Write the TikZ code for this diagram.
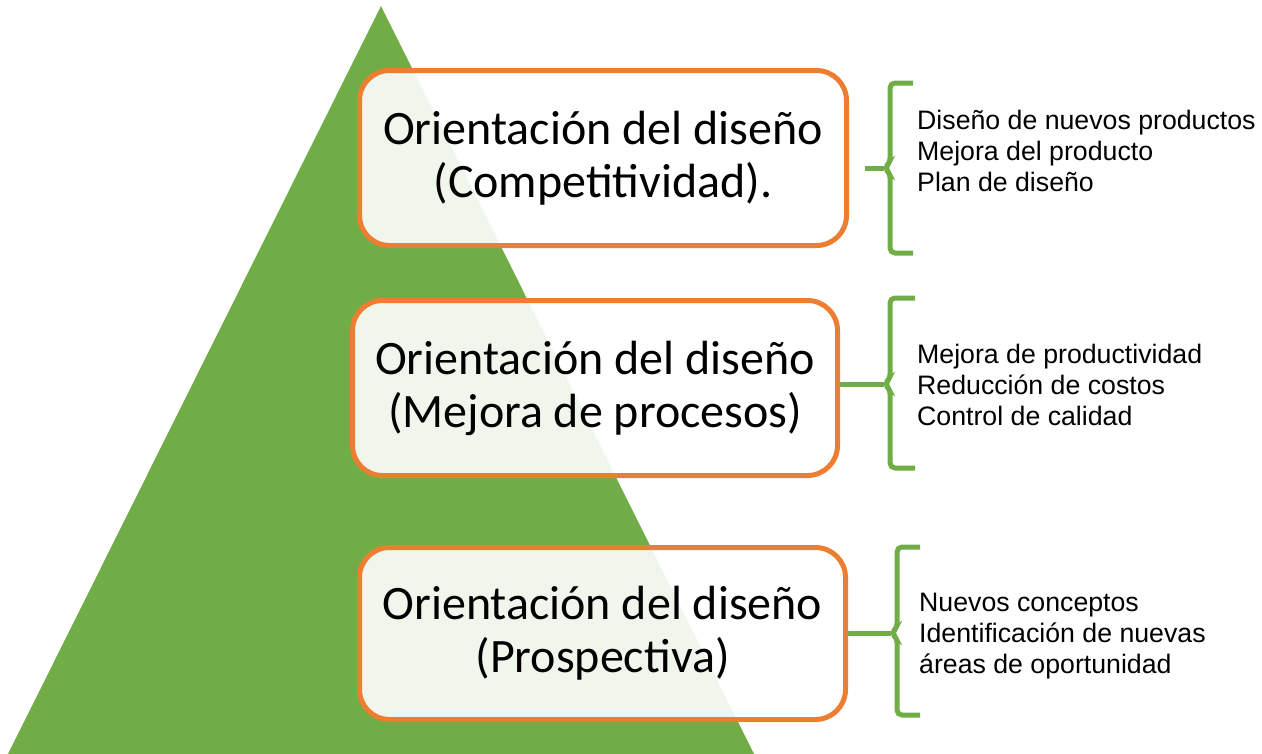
\documentclass[tikz,border=0pt]{standalone}
\usepackage{fontspec}
\setmainfont{Liberation Sans}
\newfontfamily\boxfont{Carlito}
\definecolor{tgreen}{HTML}{70AD47}
\definecolor{borange}{HTML}{ED7D31}
\begin{document}
\begin{tikzpicture}[x=1pt,y=-1pt,
  orbox/.style={draw=borange,line width=5pt,rounded corners=30pt,fill=white,fill opacity=0.9,text opacity=1,
    inner sep=0pt,align=center,font=\boxfont\fontsize{48}{53}\selectfont},
  side/.style={anchor=west,align=left,inner sep=0pt,font=\fontsize{26.7}{31}\selectfont},
  brace/.style={draw=tgreen,line width=5pt,rounded corners=5pt},
  stub/.style={draw=tgreen,line width=5pt}]
\useasboundingbox (0,0) rectangle (1262,753);
\fill[tgreen] (381,6) -- (757,760) -- (5,760) -- cycle;
\node[orbox,minimum width=487pt,minimum height=175pt] (b1) at (603,158) {Orientación del diseño\\(Competitividad).};
\node[orbox,minimum width=485pt,minimum height=175pt] (b2) at (595,388) {Orientación del diseño\\(Mejora de procesos)};
\node[orbox,minimum width=486pt,minimum height=172pt] (b3) at (602.5,633.5) {Orientación del diseño\\(Prospectiva)};
% braces
\draw[brace] (913,83) -- (890,83) -- (890,163) -- (884,168) -- (890,173) -- (890,253) -- (913,253);
\coordinate (t1) at (884,168);
\coordinate (s1) at (865,168);
\draw[stub] (s1) -- (t1);
\draw[brace] (915,298) -- (890,298) -- (890,379) -- (884,384) -- (890,389) -- (890,468) -- (915,468);
\coordinate (t2) at (884,384);
\draw[stub] (b2.east |- t2) -- (t2);
\draw[brace] (920,547) -- (897,547) -- (897,628) -- (891,633) -- (897,638) -- (897,715) -- (920,715);
\coordinate (t3) at (891,633);
\draw[stub] (b3.east |- t3) -- (t3);
\node[side] (l1) at (917,151) {Diseño de nuevos productos\\Mejora del producto\\Plan de diseño};
\node[side] (l2) at (917,385) {Mejora de productividad\\Reducción de costos\\Control de calidad};
\node[side] (l3) at (919,636) {Nuevos conceptos\\Identificación de nuevas\\áreas de oportunidad};
\end{tikzpicture}
\end{document}
